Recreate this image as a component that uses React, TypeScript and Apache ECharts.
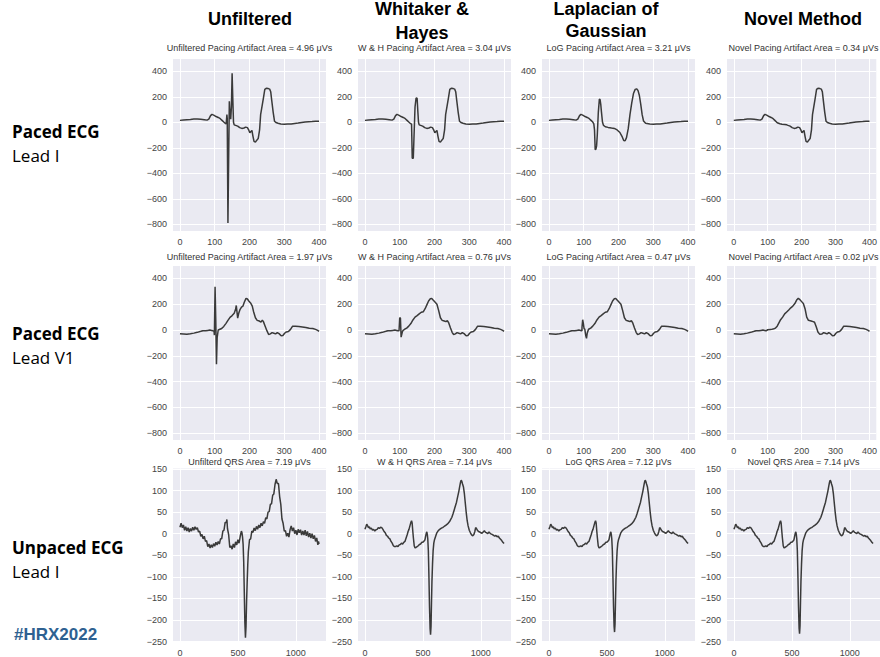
import React, { useEffect, useRef } from "react";
import * as echarts from "echarts";

type P = [number, number];

// ---------- headers / labels ----------
const columnHeaders: string[][] = [["Unfiltered"], ["Whitaker &", "Hayes"], ["Laplacian of", "Gaussian"], ["Novel Method"]];
const rowHeaders: [string, string][] = [["Paced ECG", "Lead I"], ["Paced ECG", "Lead V1"], ["Unpaced ECG", "Lead I"]];
const hashtag = "#HRX2022";

const row1Titles = [
  "Unfiltered Pacing Artifact Area = 4.96 μVs",
  "W & H Pacing Artifact Area = 3.04 μVs",
  "LoG Pacing Artifact Area = 3.21 μVs",
  "Novel Pacing Artifact Area = 0.34 μVs",
];
const row2Titles = [
  "Unfiltered Pacing Artifact Area = 1.97 μVs",
  "W & H Pacing Artifact Area = 0.76 μVs",
  "LoG Pacing Artifact Area = 0.47 μVs",
  "Novel Pacing Artifact Area = 0.02 μVs",
];
const row3Titles = [
  "Unfilterd QRS Area = 7.19 μVs",
  "W & H QRS Area = 7.14 μVs",
  "LoG QRS Area = 7.12 μVs",
  "Novel QRS Area = 7.14 μVs",
];

// ---------- ticks ----------
const pacedXTicks = [0, 100, 200, 300, 400];
const pacedYTicks = [-800, -600, -400, -200, 0, 200, 400];
const unpacedXTicks = [0, 500, 1000];
const unpacedYTicks = [-250, -200, -150, -100, -50, 0, 50, 100, 150];

// ---------- Paced Lead I ----------
const leadIPre: P[] = [[0, 15], [10, 18], [20, 20], [30, 22], [40, 25], [50, 26], [60, 23], [70, 20], [78, 17], [83, 25], [88, 52], [92, 62], [97, 56], [104, 45], [110, 38], [116, 28], [121, 15], [126, 2]];
const leadIUnfArtifact: P[] = [[130, -8], [133, -12], [135, 60], [136, 30], [138, -790], [140, -300], [142, 165], [144, 60], [146, 25], [148, 120], [150, 385], [152, 180], [154, 0]];
const leadIWHArtifact: P[] = [[130, -8], [134, -14], [136, -282], [139, -282], [141, -120], [144, 120], [147, 190], [150, 188], [152, 90], [154, 0]];
const leadINovelMid: P[] = [[130, -6], [136, -12], [142, -15], [150, -17]];
const leadIMid: P[] = [[156, -20], [160, -24], [166, -30], [172, -42], [178, -48], [184, -45], [189, -38], [194, -42], [198, -62], [201, -82], [204, -72], [207, -64], [210, -110], [213, -150], [217, -156], [221, -140], [225, -128], [229, -60], [232, 60], [236, 125], [240, 190], [244, 258], [248, 266], [254, 264], [258, 260], [261, 240], [264, 170], [268, 80], [272, 8], [276, -2], [282, -8], [290, -14]];
const leadILoGMid: P[] = [[129, -12], [131, -60], [133, -215], [135, -210], [137, -185], [139, -100], [142, 80], [145, 182], [147, 178], [149, 140], [151, 80], [154, 0], [157, -25], [162, -35], [170, -40], [180, -45], [188, -48], [196, -60], [204, -80], [210, -110], [215, -143], [219, -145], [223, -120], [228, -50], [233, 60], [238, 150], [243, 225], [248, 258], [252, 262], [256, 250], [260, 210], [264, 140], [268, 60], [272, 10], [278, -8], [290, -14]];
const leadITail: P[] = [[300, -15], [310, -13], [320, -14], [330, -9], [340, -6], [350, -2], [360, 2], [370, 5], [380, 6], [390, 8], [400, 9]];

// ---------- Paced Lead V1 ----------
const v1Pre: P[] = [[0, -28], [10, -30], [20, -32], [30, -29], [40, -24], [50, -18], [60, -10], [66, -5], [74, -6], [80, -3], [86, 0], [91, -3], [95, -6]];
const v1UnfArtifact: P[] = [[98, -10], [99, -40], [101, 335], [103, 80], [105, -265], [107, -60], [110, 0]];
const v1WHArtifact: P[] = [[98, -5], [100, 95], [102, 92], [104, -55], [106, -55], [108, -10], [111, 0]];
const v1LoGArtifact: P[] = [[95, 20], [97, 80], [99, 50], [101, 10], [103, 8], [106, -45], [108, -65], [110, -25], [113, 0]];
const v1NovelArtifact: P[] = [[100, 2], [108, 4]];
const v1UnfMid: P[] = [[115, 6], [120, 12], [126, 28], [132, 50], [138, 75], [144, 98], [150, 112], [156, 130], [160, 160], [162, 190], [164, 140], [166, 92], [169, 130], [173, 160], [177, 178], [181, 185], [185, 215], [190, 245], [194, 240], [198, 225], [203, 210], [208, 185], [212, 140], [217, 95], [222, 75], [228, 70], [233, 62], [237, 75], [240, 65], [245, 30], [250, -5], [255, -35]];
const v1FiltMid: P[] = [[115, 8], [120, 15], [126, 30], [132, 50], [138, 78], [144, 100], [150, 112], [156, 125], [162, 138], [168, 142], [173, 165], [178, 195], [183, 225], [188, 242], [192, 245], [196, 232], [202, 215], [207, 200], [212, 150], [217, 95], [222, 75], [228, 70], [233, 65], [237, 72], [241, 55], [246, 15], [251, -20], [255, -35]];
const v1NovelMid: P[] = [[112, 5], [118, 10], [123, 15], [128, 30], [133, 55], [138, 80], [144, 100], [150, 125], [156, 140], [162, 155], [168, 172], [174, 185], [180, 205], [186, 235], [190, 245], [195, 235], [200, 220], [205, 205], [210, 165], [215, 100], [220, 75], [228, 70], [234, 65], [238, 60], [243, 25], [248, -15], [253, -32]];
const v1Tail: P[] = [[260, -30], [265, -20], [270, -25], [275, -30], [280, -20], [285, -28], [291, -45], [296, -42], [301, -25], [306, -15], [312, -12], [318, 5], [324, 30], [332, 30], [342, 28], [352, 24], [362, 20], [372, 14], [382, 12], [390, 5], [396, -3], [400, -10]];

// ---------- Unpaced Lead I ----------
const unpacedUnfiltered: P[] = [[0, 15], [10, 24], [20, 14], [30, 20], [40, 8], [50, 16], [60, 6], [70, 14], [80, 4], [90, 12], [100, 6], [110, 15], [120, 8], [130, 16], [140, 10], [150, 14], [160, 4], [170, 6], [180, -6], [190, -2], [200, -12], [210, -6], [220, -18], [230, -16], [240, -30], [250, -24], [260, -33], [270, -26], [280, -32], [290, -23], [300, -29], [310, -20], [320, -26], [330, -18], [340, -24], [350, -12], [360, -12], [370, 6], [380, 8], [390, 26], [400, 26], [405, 33], [410, 12], [420, -2], [430, -32], [440, -28], [450, -36], [460, -24], [470, -32], [480, -19], [490, -26], [500, -14], [510, -22], [520, -6], [530, 6], [535, 2], [540, -8], [545, -25], [550, -65], [555, -135], [560, -205], [565, -241], [570, -215], [575, -155], [580, -112], [585, -72], [590, -42], [600, -14], [610, -12], [620, 6], [630, 3], [640, 13], [650, 7], [660, 17], [670, 10], [680, 20], [690, 14], [700, 24], [710, 18], [720, 28], [730, 24], [740, 37], [750, 34], [760, 50], [770, 51], [780, 68], [790, 69], [800, 89], [810, 92], [820, 114], [830, 126], [840, 116], [850, 116], [860, 86], [870, 68], [880, 34], [890, 24], [900, 6], [910, 7], [920, -6], [930, 1], [940, -8], [950, 9], [960, 18], [970, 6], [980, 14], [990, 0], [1000, 8], [1010, -3], [1020, 10], [1030, 2], [1040, 9], [1050, -3], [1060, 6], [1070, -3], [1080, 8], [1090, -5], [1100, 5], [1110, -8], [1120, 1], [1130, -10], [1140, 0], [1150, -12], [1160, -4], [1170, -18], [1180, -10], [1190, -26], [1195, -18], [1200, -24]];
const unpacedPre: P[] = [[0, 10], [8, 16], [15, 22], [22, 19], [30, 14], [38, 16], [45, 11], [55, 13], [65, 8], [75, 10], [85, 6], [95, 9], [105, 10], [115, 14], [125, 12], [135, 15], [145, 14], [155, 10], [165, 5], [175, 2], [185, -4], [195, -6], [205, -10], [215, -12], [225, -18], [235, -22], [245, -28], [255, -30], [265, -30], [275, -28], [285, -30], [295, -26], [305, -25], [315, -22], [325, -24], [335, -20], [345, -18], [355, -10], [365, -2], [372, 5], [380, 10], [388, 18], [395, 25], [402, 30], [407, 25], [412, 8], [418, -10], [425, -28], [432, -33], [440, -32], [450, -30], [460, -28], [470, -25], [480, -24], [490, -20], [500, -20], [510, -17], [518, -14], [524, -5], [530, 2], [534, 4], [538, -2], [542, -12]];
const qrsWH: P[] = [[547, -40], [552, -100], [557, -170], [562, -220], [566, -234], [570, -215], [574, -160], [578, -110], [583, -70], [588, -40], [594, -22]];
const qrsLoG: P[] = [[547, -40], [552, -100], [557, -168], [562, -215], [566, -228], [570, -210], [574, -158], [578, -108], [583, -68], [588, -40], [594, -22]];
const qrsNovel: P[] = [[547, -40], [552, -100], [557, -170], [562, -219], [566, -232], [570, -214], [574, -160], [578, -110], [583, -70], [588, -40], [594, -22]];
const unpacedPost: P[] = [[600, -14], [610, -6], [620, 2], [630, 6], [640, 9], [650, 11], [660, 13], [670, 14], [680, 16], [690, 18], [700, 20], [710, 22], [720, 25], [730, 28], [740, 33], [750, 38], [760, 46], [770, 55], [780, 64], [790, 73], [800, 86], [810, 98], [818, 110], [825, 120], [830, 124], [836, 121], [842, 115], [850, 108], [858, 92], [866, 70], [874, 48], [882, 30], [890, 18], [900, 8], [910, 2], [920, -3], [930, -5], [940, -2], [948, 5], [955, 14], [962, 12], [970, 8], [980, 5], [990, 4], [1000, 2], [1010, 1], [1020, 4], [1030, 7], [1040, 3], [1050, 2], [1060, 0], [1070, 4], [1080, 1], [1090, -1], [1100, -2], [1110, -4], [1120, -6], [1130, -4], [1140, -7], [1150, -6], [1160, -10], [1170, -13], [1180, -16], [1190, -20], [1200, -23]];

const traces: P[][][] = [
  [
    [...leadIPre, ...leadIUnfArtifact, ...leadIMid, ...leadITail],
    [...leadIPre, ...leadIWHArtifact, ...leadIMid, ...leadITail],
    [...leadIPre, ...leadILoGMid, ...leadITail],
    [...leadIPre, ...leadINovelMid, ...leadIMid, ...leadITail],
  ],
  [
    [...v1Pre, ...v1UnfArtifact, ...v1UnfMid, ...v1Tail],
    [...v1Pre, ...v1WHArtifact, ...v1FiltMid, ...v1Tail],
    [...v1Pre, ...v1LoGArtifact, ...v1FiltMid, ...v1Tail],
    [...v1Pre, ...v1NovelArtifact, ...v1NovelMid, ...v1Tail],
  ],
  [
    unpacedUnfiltered,
    [...unpacedPre, ...qrsWH, ...unpacedPost],
    [...unpacedPre, ...qrsLoG, ...unpacedPost],
    [...unpacedPre, ...qrsNovel, ...unpacedPost],
  ],
];
const titles = [row1Titles, row2Titles, row3Titles];

// ---------- layout ----------
const colLefts = [173, 358, 542, 727];
const colWidth = 153;
const rowTops = [59, 266, 468.5];
const rowHeights = [172, 174, 174];
const titleYs = [48, 257, 462];

const fmt = (v: number) => String(v).replace("-", "\u2212");

export default function App() {
  const ref = useRef<HTMLDivElement>(null);
  useEffect(() => {
    const chart = echarts.init(ref.current!, null, { renderer: "svg" });
    const grids: any[] = [];
    const xAxes: any[] = [];
    const yAxes: any[] = [];
    const series: any[] = [];
    const graphics: any[] = [];
    const tickFont = { color: "#444", fontSize: 9, fontFamily: "Liberation Sans, Arial, sans-serif" };
    for (let r = 0; r < 3; r++) {
      const paced = r < 2;
      const xt = paced ? pacedXTicks : unpacedXTicks;
      const yt = paced ? pacedYTicks : unpacedYTicks;
      for (let c = 0; c < 4; c++) {
        const idx = r * 4 + c;
        grids.push({
          left: colLefts[c],
          top: rowTops[r],
          width: colWidth,
          height: rowHeights[r],
          show: true,
          backgroundColor: "#EAEAF2",
          borderWidth: 0,
          containLabel: false,
        });
        const split = { show: true, lineStyle: { color: "#ffffff", width: 1 } };
        xAxes.push({
          type: "value",
          gridIndex: idx,
          min: paced ? -20 : -60,
          max: paced ? 420 : 1260,
          axisLine: { show: false },
          axisTick: { show: false, customValues: xt },
          axisLabel: { ...tickFont, customValues: xt, margin: 6, formatter: fmt },
          splitLine: split,
        });
        yAxes.push({
          type: "value",
          gridIndex: idx,
          min: paced ? -852 : -251,
          max: paced ? 496 : 151,
          axisLine: { show: false },
          axisTick: { show: false, customValues: yt },
          axisLabel: { ...tickFont, customValues: yt, margin: 6, formatter: fmt },
          splitLine: split,
        });
        series.push({
          type: "line",
          xAxisIndex: idx,
          yAxisIndex: idx,
          data: traces[r][c],
          showSymbol: false,
          symbol: "none",
          lineStyle: { color: "#3a3a3a", width: 1.5 },
          z: 3,
        });
        graphics.push({
          type: "text",
          x: colLefts[c] + colWidth / 2,
          y: titleYs[r],
          style: {
            text: titles[r][c],
            fill: "#333",
            fontSize: 9,
            fontFamily: "Liberation Sans, Arial, sans-serif",
            textAlign: "center",
            textVerticalAlign: "middle",
          },
        });
      }
    }
    const headerCenters = [250, 422, 606, 803];
    columnHeaders.forEach((lines, i) => {
      const ys = lines.length === 1 ? [19] : i === 1 ? [9, 33] : [9, 31];
      lines.forEach((t, j) => {
        graphics.push({
          type: "text",
          x: headerCenters[i],
          y: ys[j],
          style: {
            text: t,
            fill: "#000",
            fontSize: 18,
            fontWeight: "bold",
            fontFamily: "Liberation Sans, Arial, sans-serif",
            textAlign: "center",
            textVerticalAlign: "middle",
          },
        });
      });
    });
    const rowYs = [131, 333, 547];
    rowHeaders.forEach(([a, b], i) => {
      graphics.push({
        type: "text",
        x: 12,
        y: rowYs[i],
        style: { text: a, fill: "#000", fontSize: 17, fontWeight: "bold", fontFamily: "Open Sans, sans-serif", textAlign: "left", textVerticalAlign: "middle" },
      });
      graphics.push({
        type: "text",
        x: 12,
        y: rowYs[i] + 24,
        style: { text: b, fill: "#000", fontSize: 17, fontFamily: "Open Sans, sans-serif", textAlign: "left", textVerticalAlign: "middle" },
      });
    });
    graphics.push({
      type: "text",
      x: 14,
      y: 634,
      style: { text: hashtag, fill: "#2E6191", fontSize: 17, fontWeight: "bold", fontFamily: "Liberation Sans, Arial, sans-serif", textAlign: "left", textVerticalAlign: "middle" },
    });

    chart.setOption({
      animation: false,
      backgroundColor: "#ffffff",
      grid: grids,
      xAxis: xAxes,
      yAxis: yAxes,
      series,
      graphic: graphics,
    });
    return () => chart.dispose();
  }, []);
  return <div ref={ref} style={{ position: "absolute", left: 0, top: 0, width: 880, height: 657, background: "#fff" }} />;
}
